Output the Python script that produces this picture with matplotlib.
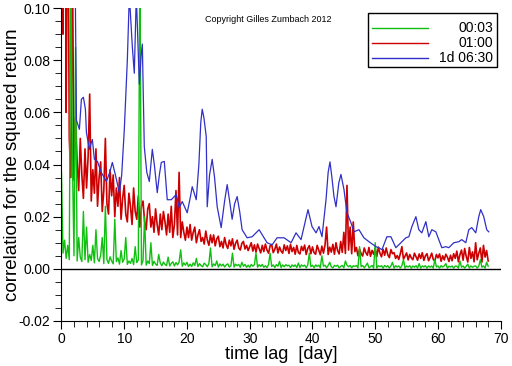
import numpy as np
import matplotlib
matplotlib.use('Agg')
import matplotlib.pyplot as plt
from matplotlib.ticker import MultipleLocator, FormatStrFormatter
from matplotlib.lines import Line2D
from matplotlib.patches import Rectangle

plt.rcParams['font.family'] = ['Liberation Sans', 'DejaVu Sans']

# lag grid of the two dense series (days)
lag_step = 0.25

# 01:00 returns, one value per quarter day
red_vals = [
    0.30, 0.09, 0.22, 0.06, 0.16, 0.05, 0.035, 0.12,
    0.034, 0.058, 0.041, 0.030, 0.050, 0.036, 0.027, 0.046,
    0.031, 0.043, 0.067, 0.026, 0.038, 0.029, 0.046, 0.024,
    0.035, 0.041, 0.022, 0.030, 0.050, 0.025, 0.021, 0.038,
    0.028, 0.036, 0.020, 0.031, 0.024, 0.035, 0.019, 0.027,
    0.032, 0.021, 0.018, 0.029, 0.024, 0.017, 0.031, 0.022,
    0.019, 0.028, 0.016, 0.024, 0.026, 0.018, 0.015, 0.023,
    0.025, 0.016, 0.020, 0.014, 0.023, 0.017, 0.013, 0.021,
    0.015, 0.022, 0.018, 0.013, 0.021, 0.014, 0.024, 0.012,
    0.017, 0.030, 0.013, 0.037, 0.012, 0.018, 0.014, 0.011,
    0.016, 0.012, 0.017, 0.011, 0.014, 0.016, 0.010, 0.013,
    0.015, 0.0105, 0.012, 0.0095, 0.0145, 0.011, 0.009, 0.013,
    0.010, 0.013, 0.0088, 0.0115, 0.0125, 0.0085, 0.0105, 0.008,
    0.012, 0.0092, 0.0078, 0.011, 0.0088, 0.0115, 0.0075, 0.0098,
    0.011, 0.0080, 0.0072, 0.0098, 0.0105, 0.0076, 0.0090, 0.007,
    0.0085, 0.010, 0.0068, 0.0092, 0.0064, 0.0095, 0.0078, 0.0061,
    0.0090, 0.0066, 0.0095, 0.0072, 0.0060, 0.0088, 0.0093, 0.0062,
    0.0075, 0.0095, 0.0061, 0.0084, 0.0068, 0.0060, 0.0092, 0.0070,
    0.0088, 0.0059, 0.0094, 0.0066, 0.0082, 0.0056, 0.0090, 0.0063,
    0.0057, 0.0086, 0.0070, 0.0091, 0.0055, 0.0078, 0.0089, 0.0058,
    0.0084, 0.0062, 0.0056, 0.0090, 0.0072, 0.0054, 0.0087, 0.0060,
    0.0091, 0.0160, 0.0055, 0.0083, 0.0064, 0.0094, 0.0056, 0.0100,
    0.0070, 0.0057, 0.0105, 0.0063, 0.0140, 0.0059, 0.0320, 0.0072,
    0.0160, 0.0058, 0.0180, 0.0066, 0.0082, 0.0050, 0.0076, 0.0058,
    0.0049, 0.0080, 0.0062, 0.0052, 0.0082, 0.0048, 0.0071, 0.0056,
    0.0078, 0.0047, 0.0083, 0.0060, 0.0046, 0.0075, 0.0052, 0.0080,
    0.0054, 0.0043, 0.0074, 0.0058, 0.0062, 0.0040, 0.0051, 0.0036,
    0.0058, 0.0085, 0.0037, 0.0049, 0.0061, 0.0034, 0.0055, 0.0042,
    0.0035, 0.0060, 0.0046, 0.0033, 0.0057, 0.0040, 0.0062, 0.0032,
    0.0050, 0.0058, 0.0031, 0.0044, 0.0060, 0.0036, 0.0030, 0.0055,
    0.0042, 0.0057, 0.0029, 0.0050, 0.0034, 0.0056, 0.0045, 0.0028,
    0.0052, 0.0031, 0.0058, 0.0040, 0.0068, 0.0027, 0.0055, 0.0072,
    0.0033, 0.0078, 0.0048, 0.0026, 0.0082, 0.0040, 0.0065, 0.0027,
    0.0100, 0.0035, 0.0060, 0.0080, 0.0026, 0.0090, 0.0045, 0.0070,
    0.0030,
]

# 00:03 returns
green_vals = [
    0.037, 0.006, 0.011, 0.004, 0.009, 0.0035, 0.12, 0.041,
    0.005, 0.085, 0.003, 0.012, 0.0045, 0.0028, 0.022, 0.0035,
    0.016, 0.0025, 0.0055, 0.0032, 0.009, 0.0023, 0.015, 0.0040,
    0.0028, 0.0052, 0.012, 0.0020, 0.024, 0.0035, 0.0021, 0.0046,
    0.0030, 0.0019, 0.019, 0.0028, 0.0042, 0.0018, 0.0070, 0.0025,
    0.0038, 0.012, 0.0017, 0.0030, 0.0021, 0.0040, 0.0016, 0.0085,
    0.0024, 0.0034, 0.12, 0.0015, 0.0032, 0.020, 0.0014, 0.0030,
    0.0020, 0.010, 0.0013, 0.0029, 0.0018, 0.0013, 0.0055, 0.0022,
    0.0012, 0.0026, 0.0017, 0.0012, 0.0045, 0.0011, 0.0021, 0.0027,
    0.0011, 0.0024, 0.0015, 0.0026, 0.0073, 0.0010, 0.0023, 0.0014,
    0.0025, 0.0009, 0.0018, 0.0009, 0.0023, 0.0013, 0.0040, 0.0009,
    0.0020, 0.0012, 0.0008, 0.0022, 0.0016, 0.0008, 0.0021, 0.0080,
    0.0008, 0.0019, 0.0012, 0.0030, 0.0007, 0.0019, 0.0011, 0.0018,
    0.0007, 0.0015, 0.0019, 0.0007, 0.0011, 0.0060, 0.0007, 0.0018,
    0.0012, 0.0017, 0.0006, 0.0025, 0.0010, 0.0017, 0.0006, 0.0014,
    0.0006, 0.0017, 0.0010, 0.0016, 0.0060, 0.0006, 0.0016, 0.0009,
    0.0017, 0.0006, 0.0012, 0.0005, 0.0016, 0.0060, 0.0009, 0.0015,
    0.0005, 0.0016, 0.0010, 0.0028, 0.0005, 0.0015, 0.0008, 0.0016,
    0.0011, 0.0014, 0.0005, 0.0015, 0.0009, 0.0015, 0.0005, 0.0022,
    0.0005, 0.0015, 0.0010, 0.0014, 0.0004, 0.0015, 0.0060, 0.0008,
    0.0014, 0.0004, 0.0015, 0.0009, 0.0014, 0.0004, 0.0050, 0.0010,
    0.0014, 0.0004, 0.0013, 0.0025, 0.0008, 0.0004, 0.0013, 0.0010,
    0.0014, 0.0004, 0.0009, 0.0013, 0.0004, 0.0030, 0.0014, 0.0008,
    0.0013, 0.0004, 0.0012, 0.0009, 0.0013, 0.0004, 0.0085, 0.0008,
    0.0013, 0.0004, 0.0012, 0.0022, 0.0004, 0.0008, 0.0013, 0.0003,
    0.0100, 0.0003, 0.0012, 0.0008, 0.0012, 0.0003, 0.0013, 0.0007,
    0.0012, 0.0003, 0.0011, 0.0025, 0.0003, 0.0012, 0.0007, 0.0011,
    0.0003, 0.0012, 0.0035, 0.0003, 0.0011, 0.0007, 0.0012, 0.0003,
    0.0011, 0.0006, 0.0012, 0.0003, 0.0020, 0.0003, 0.0011, 0.0007,
    0.0012, 0.0003, 0.0011, 0.0006, 0.0011, 0.0003, 0.0035, 0.0007,
    0.0011, 0.0003, 0.0012, 0.0007, 0.0011, 0.0020, 0.0003, 0.0010,
    0.0007, 0.0011, 0.0003, 0.0011, 0.0010, 0.0003, 0.0030, 0.0006,
    0.0011, 0.0003, 0.0010, 0.0018, 0.0003, 0.0011, 0.0006, 0.0010,
    0.0011, 0.0003, 0.0010, 0.0035, 0.0006, 0.0011, 0.0003, 0.0025,
    0.0010,
]

# 1d 06:30 returns (smoother, irregular lags)
blue_lag = [
    0.16, 1.27, 2.23, 2.39, 2.86, 3.18, 3.50, 3.82, 3.98, 4.45, 4.77, 4.93,
    5.25, 5.73, 6.36, 7.16, 7.7, 8.11, 8.6, 9.23, 9.6, 10.02, 10.5, 10.82,
    11.3, 11.61, 11.93, 12.41, 12.7, 12.89, 13.20, 13.6, 14.00, 14.25,
    14.48, 14.8, 15.27, 15.6, 15.91, 16.39, 16.86, 17.50, 18.29, 18.77,
    19.25, 20.04, 20.5, 20.84, 21.48, 21.9, 22.2, 22.43, 22.7, 23.07,
    23.23, 23.6, 24.02, 24.4, 24.82, 25.45, 26.0, 26.41, 26.8, 27.20,
    27.6, 28.00, 28.4, 28.79, 29.59, 30.39, 31.50, 32.77, 33.57, 34.36,
    35.48, 36.59, 37.38, 38.18, 38.66, 39.29, 39.93, 40.57, 41.04, 41.52,
    42.16, 42.5, 42.79, 43.1, 43.43, 43.75, 44.2, 44.54, 45.02, 45.50,
    46.13, 46.61, 47.41, 48.20, 49.00, 50.11, 50.59, 51.07, 51.86, 52.50,
    53.29, 54.09, 54.88, 55.36, 55.84, 56.48, 56.95, 57.43, 58.07, 58.54,
    59.02, 59.66, 60.61, 61.25, 61.72, 62.52, 63.32, 63.79, 64.43, 64.91,
    65.38, 66.02, 66.5, 66.81, 67.29, 67.77, 68.09,
]
blue_vals = [
    0.15, 0.11, 0.10, 0.057, 0.0535, 0.065, 0.0658, 0.0612, 0.0523, 0.0458,
    0.0485, 0.0496, 0.042, 0.0412, 0.0369, 0.0335, 0.037, 0.0408, 0.036,
    0.0292, 0.036, 0.0535, 0.080, 0.105, 0.085, 0.075, 0.105, 0.0708,
    0.082, 0.0862, 0.0469, 0.037, 0.0335, 0.040, 0.0458, 0.040, 0.0292,
    0.036, 0.0408, 0.0412, 0.0265, 0.0265, 0.0285, 0.0235, 0.0258, 0.0215,
    0.027, 0.0315, 0.0265, 0.040, 0.056, 0.0612, 0.058, 0.0508, 0.0238,
    0.036, 0.042, 0.035, 0.0238, 0.0158, 0.026, 0.0323, 0.026, 0.0190,
    0.025, 0.0277, 0.022, 0.0150, 0.0119, 0.0123, 0.0150, 0.0100, 0.0092,
    0.0119, 0.0119, 0.0100, 0.0138, 0.0112, 0.0162, 0.0227, 0.0162,
    0.0138, 0.0162, 0.0123, 0.0265, 0.037, 0.0410, 0.035, 0.0277, 0.0238,
    0.033, 0.0362, 0.0304, 0.0215, 0.0177, 0.0142, 0.0150, 0.0119, 0.0104,
    0.0085, 0.0081, 0.0073, 0.0123, 0.0123, 0.0081, 0.0100, 0.0119, 0.0123,
    0.0162, 0.0200, 0.0150, 0.0138, 0.0181, 0.0123, 0.0150, 0.0142, 0.0081,
    0.0085, 0.0081, 0.0100, 0.0104, 0.0112, 0.0100, 0.0150, 0.0158, 0.0138,
    0.020, 0.0227, 0.0200, 0.0150, 0.0142,
]

labels = ['00:03', '01:00', '1d 06:30']
colors = ['#10c010', '#cc0000', '#3030c8']

red_lag = np.arange(len(red_vals)) * lag_step
green_lag = np.arange(len(green_vals)) * lag_step

fig = plt.figure(figsize=(5.12, 3.66), dpi=100)
ax = fig.add_axes([0.120, 0.123, 0.858, 0.855])

ax.plot(red_lag, red_vals, color=colors[1], lw=1.2)
ax.plot(green_lag, green_vals, color=colors[0], lw=1.0)
ax.plot(blue_lag, blue_vals, color=colors[2], lw=0.9)
ax.axhline(0, color='black', lw=1)

ax.set_xlim(0, 70)
ax.set_ylim(-0.02, 0.10)
ax.xaxis.set_major_locator(MultipleLocator(10))
ax.xaxis.set_minor_locator(MultipleLocator(2))
ax.yaxis.set_major_locator(MultipleLocator(0.02))
ax.yaxis.set_minor_locator(MultipleLocator(0.005))
ax.yaxis.set_major_formatter(FormatStrFormatter('%.2f'))
ax.spines['top'].set_visible(False)
ax.spines['right'].set_visible(False)
ax.tick_params(which='major', direction='out', length=6, labelsize=10, pad=2)
ax.tick_params(which='minor', direction='out', length=4)

ax.set_xlabel('time lag  [day]', fontsize=13, labelpad=0)
ax.set_ylabel('correlation for the squared return', fontsize=13.5, labelpad=-1.5)

ax.text(0.47, 0.965, 'Copyright Gilles Zumbach 2012', transform=ax.transAxes,
        fontsize=6.5, ha='center', va='center')

# legend box drawn by hand so the labels sit right-aligned
ax.add_patch(Rectangle((0.698, 0.8115), 0.2936, 0.1725, transform=ax.transAxes,
                       fill=False, ec='black', lw=1, clip_on=False))
for k, yy in enumerate([0.936, 0.888, 0.840]):
    ax.add_line(Line2D([0.707, 0.835], [yy, yy], transform=ax.transAxes,
                       color=colors[k], lw=1))
    ax.text(0.982, yy, labels[k], transform=ax.transAxes, fontsize=10,
            ha='right', va='center')

fig.savefig('out.png', dpi=100)
